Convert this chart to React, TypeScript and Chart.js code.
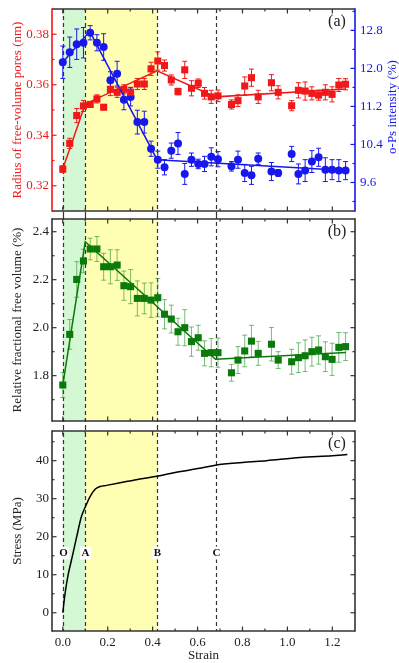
import React, { useEffect, useRef } from 'react';
import { Chart, registerables } from 'chart.js';

Chart.register(...registerables);

const W = 399;
const H = 663;
const FONT = "'Liberation Serif', 'Times New Roman', serif";
const RED = '#f01818';
const BLUE = '#1818ee';
const GREEN = '#0a7a0a';
const GREEN_ERR = 'rgba(50,150,50,0.65)';
const AXIS = '#333333';
const TEXT = '#222222';
const GREEN_BAND = '#d4f8d4';
const YELLOW_BAND = '#ffffb4';

// ---------- data ----------
const strain = [0, 0.031, 0.062, 0.092, 0.122, 0.152, 0.182, 0.212, 0.242, 0.272, 0.302, 0.332, 0.363, 0.393, 0.423, 0.453, 0.483, 0.513, 0.543, 0.573, 0.603, 0.631, 0.661, 0.691, 0.751, 0.78, 0.81, 0.84, 0.87, 0.929, 0.959, 1.019, 1.049, 1.079, 1.109, 1.139, 1.169, 1.199, 1.229, 1.259];

const radius = [0.3266, 0.3368, 0.3478, 0.3516, 0.3522, 0.3544, 0.3511, 0.3582, 0.357, 0.3582, 0.357, 0.3603, 0.3603, 0.3663, 0.3694, 0.3676, 0.3619, 0.3573, 0.3659, 0.3586, 0.3606, 0.3566, 0.3552, 0.3556, 0.3522, 0.3537, 0.3595, 0.3628, 0.3552, 0.3608, 0.357, 0.3517, 0.3578, 0.3575, 0.3566, 0.3559, 0.357, 0.3562, 0.3599, 0.3602];
const radiusErr = [0.0013, 0.002, 0.0028, 0.0022, 0.001, 0.0016, 0.001, 0.0025, 0.002, 0.0018, 0.002, 0.0022, 0.0022, 0.0026, 0.0036, 0.0022, 0.002, 0.0013, 0.0034, 0.003, 0.0017, 0.0023, 0.0026, 0.0023, 0.0018, 0.0023, 0.0036, 0.0034, 0.0026, 0.0032, 0.0026, 0.002, 0.003, 0.0036, 0.0026, 0.002, 0.003, 0.003, 0.0026, 0.0022];

const intensity = [12.13, 12.34, 12.51, 12.54, 12.75, 12.54, 12.45, 11.75, 11.89, 11.34, 11.4, 10.87, 10.87, 10.31, 10.08, 9.92, 10.27, 10.42, 9.78, 10.08, 9.99, 9.99, 10.14, 10.09, 9.94, 10.08, 9.8, 9.75, 10.1, 9.83, 9.8, 10.2, 9.78, 9.85, 10.04, 10.13, 9.87, 9.87, 9.85, 9.85];
const intensityErr = [0.34, 0.32, 0.32, 0.32, 0.15, 0.17, 0.28, 0.18, 0.26, 0.21, 0.19, 0.25, 0.23, 0.16, 0.18, 0.16, 0.16, 0.23, 0.22, 0.14, 0.1, 0.16, 0.19, 0.16, 0.1, 0.18, 0.18, 0.19, 0.12, 0.19, 0.07, 0.16, 0.21, 0.23, 0.23, 0.19, 0.25, 0.21, 0.23, 0.19];

const rffv = [1.761, 1.972, 2.201, 2.278, 2.328, 2.328, 2.254, 2.254, 2.261, 2.175, 2.171, 2.122, 2.122, 2.115, 2.125, 2.056, 2.036, 1.983, 2.0, 1.942, 1.958, 1.893, 1.896, 1.896, 1.812, 1.865, 1.903, 1.944, 1.893, 1.931, 1.865, 1.858, 1.875, 1.883, 1.9, 1.907, 1.879, 1.868, 1.918, 1.921];
const rffvErr = [0.052, 0.062, 0.074, 0.049, 0.045, 0.052, 0.056, 0.071, 0.064, 0.061, 0.071, 0.073, 0.064, 0.072, 0.08, 0.061, 0.058, 0.056, 0.075, 0.061, 0.052, 0.052, 0.059, 0.061, 0.035, 0.056, 0.066, 0.066, 0.05, 0.07, 0.035, 0.052, 0.062, 0.066, 0.06, 0.059, 0.062, 0.067, 0.062, 0.058];

const radiusFitX = [0, 0.1, 0.42, 0.68, 1.26];
const radiusFitY = [0.3266, 0.3524, 0.3655, 0.3552, 0.3583];
const intensityFitX = [0, 0.12, 0.42, 1.26];
const intensityFitY = [12.13, 12.78, 10.08, 9.85];
const rffvFitX = [0, 0.1, 0.68, 1.26];
const rffvFitY = [1.761, 2.358, 1.868, 1.897];

const stressStrain = [0, 0.01, 0.024, 0.044, 0.062, 0.083, 0.1, 0.121, 0.144, 0.166, 0.195, 0.25, 0.343, 0.42, 0.5, 0.61, 0.68, 0.8, 0.907, 1.056, 1.2, 1.267];
const stress = [0, 5, 10, 15.2, 20, 25.3, 27.8, 30.5, 32.5, 33.2, 33.5, 34.1, 35.2, 35.9, 36.9, 38.0, 38.8, 39.5, 40.0, 40.8, 41.3, 41.6];

const stageStrains = [0, 0.1, 0.42, 0.68];
const stageLabels = ['O', 'A', 'B', 'C'];

const xMajor = [0, 0.2, 0.4, 0.6, 0.8, 1.0, 1.2];
const xMinor = [0.1, 0.3, 0.5, 0.7, 0.9, 1.1];
const radiusMajor = [0.32, 0.34, 0.36, 0.38];
const radiusMinor = [0.31, 0.33, 0.35, 0.37, 0.39];
const intensityMajor = [9.6, 10.4, 11.2, 12.0, 12.8];
const intensityMinor = [9.2, 10.0, 10.8, 11.6, 12.4, 13.2];
const rffvMajor = [1.8, 2.0, 2.2, 2.4];
const rffvMinor = [1.7, 1.9, 2.1, 2.3];
const stressMajor = [0, 10, 20, 30, 40];
const stressMinor = [5, 15, 25, 35, 45];

// ---------- helpers ----------
const pts = (xs: number[], ys: number[]) => xs.map((x, i) => ({ x, y: ys[i] }));
const tickFont = { family: FONT, size: 13 };
const titleFont = { family: FONT, size: 13 };

function yAxis(o: any) {
  return {
    type: 'linear',
    position: o.position,
    min: o.min,
    max: o.max,
    afterBuildTicks: (s: any) => {
      s.ticks = o.ticks.map((v: number) => ({ value: v }));
    },
    afterFit: (s: any) => {
      s.width = o.width;
      s.paddingTop = 0;
      s.paddingBottom = 0;
    },
    grid: { display: false, drawTicks: false },
    border: { display: false },
    ticks: {
      color: o.color,
      font: tickFont,
      padding: o.padding,
      autoSkip: false,
      callback: (v: any) => Number(v).toFixed(o.decimals),
    },
    title: o.title
      ? { display: true, text: o.title, color: o.color, font: titleFont, padding: { top: 10, bottom: 0 } }
      : { display: false },
  };
}

function hiddenX() {
  return { type: 'linear', min: -0.048, max: 1.301, display: false };
}

interface Side { scaleId: string; major: number[]; minor: number[]; color: string }
interface ErrSpec { scaleId: string; ys: number[]; errs: number[]; color: string }
interface PanelCfg {
  id: string;
  left: Side;
  right: Side;
  extTop: number;
  extBottom: number;
  errors: ErrSpec[];
  label: string;
  stageY?: number;
  stageScale?: string;
  rightTitle?: { text: string; color: string };
}

function panelPlugin(cfg: PanelCfg) {
  return {
    id: cfg.id,
    beforeDatasetsDraw(chart: any) {
      const { ctx, chartArea: a } = chart;
      const xs = chart.scales.x;
      ctx.save();
      const b0 = xs.getPixelForValue(stageStrains[0]);
      const b1 = xs.getPixelForValue(stageStrains[1]);
      const b2 = xs.getPixelForValue(stageStrains[2]);
      ctx.fillStyle = GREEN_BAND;
      ctx.fillRect(b0, a.top, b1 - b0, a.bottom - a.top);
      ctx.fillStyle = YELLOW_BAND;
      ctx.fillRect(b1, a.top, b2 - b1, a.bottom - a.top);
      ctx.strokeStyle = AXIS;
      ctx.lineWidth = 1.2;
      ctx.setLineDash([4, 3]);
      for (const s of stageStrains) {
        const p = Math.round(xs.getPixelForValue(s)) + 0.5;
        ctx.beginPath();
        ctx.moveTo(p, a.top - cfg.extTop);
        ctx.lineTo(p, a.bottom + cfg.extBottom);
        ctx.stroke();
      }
      ctx.setLineDash([]);
      const cap = 2.5;
      for (const e of cfg.errors) {
        const ys = chart.scales[e.scaleId];
        ctx.strokeStyle = e.color;
        ctx.lineWidth = 1;
        e.ys.forEach((v, i) => {
          const px = xs.getPixelForValue(strain[i]);
          const t = ys.getPixelForValue(v + e.errs[i]);
          const b = ys.getPixelForValue(v - e.errs[i]);
          ctx.beginPath();
          ctx.moveTo(px, t);
          ctx.lineTo(px, b);
          ctx.moveTo(px - cap, t);
          ctx.lineTo(px + cap, t);
          ctx.moveTo(px - cap, b);
          ctx.lineTo(px + cap, b);
          ctx.stroke();
        });
      }
      ctx.restore();
    },
    afterDraw(chart: any) {
      const { ctx, chartArea: a } = chart;
      const xs = chart.scales.x;
      ctx.save();
      const line = (x1: number, y1: number, x2: number, y2: number, c: string, w: number) => {
        ctx.strokeStyle = c;
        ctx.lineWidth = w;
        ctx.beginPath();
        ctx.moveTo(x1, y1);
        ctx.lineTo(x2, y2);
        ctx.stroke();
      };
      // ticks
      for (const [vals, len] of [[xMajor, 4.5], [xMinor, 2.5]] as [number[], number][]) {
        for (const v of vals) {
          const p = xs.getPixelForValue(v);
          line(p, a.bottom, p, a.bottom - len, AXIS, 1.2);
          line(p, a.top, p, a.top + len, AXIS, 1.2);
        }
      }
      const sides: [Side, number, number][] = [[cfg.left, a.left, 1], [cfg.right, a.right, -1]];
      for (const [side, x0, dir] of sides) {
        const ys = chart.scales[side.scaleId];
        for (const [vals, len] of [[side.major, 4.5], [side.minor, 2.5]] as [number[], number][]) {
          for (const v of vals) {
            const p = ys.getPixelForValue(v);
            if (p < a.top + 1 || p > a.bottom - 1) continue;
            line(x0, p, x0 + dir * len, p, side.color, 1.2);
          }
        }
      }
      // frame
      line(a.left, a.top, a.right, a.top, AXIS, 1.6);
      line(a.left, a.bottom, a.right, a.bottom, AXIS, 1.6);
      line(a.left, a.top - 0.8, a.left, a.bottom + 0.8, cfg.left.color, 1.6);
      line(a.right, a.top - 0.8, a.right, a.bottom + 0.8, cfg.right.color, 1.6);
      // panel label
      ctx.fillStyle = TEXT;
      ctx.font = `16px ${FONT}`;
      ctx.textAlign = 'center';
      ctx.textBaseline = 'middle';
      ctx.fillText(cfg.label, a.right - 18, a.top + 13);
      // stage labels
      if (cfg.stageY !== undefined && cfg.stageScale) {
        const py = chart.scales[cfg.stageScale].getPixelForValue(cfg.stageY);
        ctx.font = `bold 11px ${FONT}`;
        stageStrains.forEach((s, i) => {
          const px = Math.round(xs.getPixelForValue(s)) + 0.5;
          const w = ctx.measureText(stageLabels[i]).width + 3;
          ctx.fillStyle = '#ffffff';
          ctx.fillRect(px - w / 2, py - 6.5, w, 13);
          ctx.fillStyle = '#111111';
          ctx.fillText(stageLabels[i], px, py + 0.5);
        });
      }
      // right title
      if (cfg.rightTitle) {
        ctx.translate(a.right + 38, (a.top + a.bottom) / 2 - 3);
        ctx.rotate(-Math.PI / 2);
        ctx.fillStyle = cfg.rightTitle.color;
        ctx.font = `13px ${FONT}`;
        ctx.fillText(cfg.rightTitle.text, 0, 0);
      }
      ctx.restore();
    },
  };
}

const baseOptions = {
  responsive: false,
  animation: false,
  events: [],
  plugins: { legend: { display: false }, tooltip: { enabled: false } },
};

function configA(): any {
  return {
    type: 'scatter',
    data: {
      datasets: [
        { data: pts(radiusFitX, radiusFitY), yAxisID: 'yL', showLine: true, pointRadius: 0, borderColor: RED, borderWidth: 1.5 },
        { data: pts(intensityFitX, intensityFitY), yAxisID: 'yR', showLine: true, pointRadius: 0, borderColor: BLUE, borderWidth: 1.5 },
        { data: pts(strain, radius), yAxisID: 'yL', pointStyle: 'rect', pointRadius: 5, borderWidth: 0, backgroundColor: RED, borderColor: RED },
        { data: pts(strain, intensity), yAxisID: 'yR', pointStyle: 'circle', pointRadius: 4, borderWidth: 0, backgroundColor: BLUE, borderColor: BLUE },
      ],
    },
    options: {
      ...baseOptions,
      layout: { padding: { top: 9, bottom: H - 211, left: 0, right: 0 } },
      scales: {
        x: hiddenX(),
        yL: yAxis({ position: 'left', min: 0.31, max: 0.39, ticks: radiusMajor, width: 52, color: RED, padding: 3, decimals: 2, title: 'Radius of free-volume pores (nm)' }),
        yR: yAxis({ position: 'right', min: 9.0, max: 13.25, ticks: intensityMajor, width: 44, color: BLUE, padding: 5, decimals: 1 }),
      },
    },
    plugins: [
      panelPlugin({
        id: 'panelA',
        left: { scaleId: 'yL', major: radiusMajor, minor: radiusMinor, color: RED },
        right: { scaleId: 'yR', major: intensityMajor, minor: intensityMinor, color: BLUE },
        extTop: 0,
        extBottom: 4,
        errors: [
          { scaleId: 'yL', ys: radius, errs: radiusErr, color: RED },
          { scaleId: 'yR', ys: intensity, errs: intensityErr, color: BLUE },
        ],
        label: '(a)',
        rightTitle: { text: 'o-Ps intensity (%)', color: BLUE },
      }),
    ],
  };
}

function configB(): any {
  return {
    type: 'scatter',
    data: {
      datasets: [
        { data: pts(rffvFitX, rffvFitY), yAxisID: 'y', showLine: true, pointRadius: 0, borderColor: GREEN, borderWidth: 1.5 },
        { data: pts(strain, rffv), yAxisID: 'y', pointStyle: 'rect', pointRadius: 5, borderWidth: 0, backgroundColor: GREEN, borderColor: GREEN },
      ],
    },
    options: {
      ...baseOptions,
      layout: { padding: { top: 219, bottom: H - 421, left: 0, right: 44 } },
      scales: {
        x: hiddenX(),
        y: yAxis({ position: 'left', min: 1.611, max: 2.453, ticks: rffvMajor, width: 52, color: TEXT, padding: 3, decimals: 1, title: 'Relative fractional free volume (%)' }),
      },
    },
    plugins: [
      panelPlugin({
        id: 'panelB',
        left: { scaleId: 'y', major: rffvMajor, minor: rffvMinor, color: AXIS },
        right: { scaleId: 'y', major: rffvMajor, minor: rffvMinor, color: AXIS },
        extTop: 4,
        extBottom: 5,
        errors: [{ scaleId: 'y', ys: rffv, errs: rffvErr, color: GREEN_ERR }],
        label: '(b)',
      }),
    ],
  };
}

function configC(): any {
  return {
    type: 'scatter',
    data: {
      datasets: [
        { data: pts(stressStrain, stress), yAxisID: 'y', showLine: true, pointRadius: 0, borderColor: '#000000', borderWidth: 1.5, cubicInterpolationMode: 'monotone' },
      ],
    },
    options: {
      ...baseOptions,
      layout: { padding: { top: 431, bottom: 0, left: 0, right: 44 } },
      scales: {
        x: {
          type: 'linear',
          min: -0.048,
          max: 1.301,
          afterBuildTicks: (s: any) => {
            s.ticks = xMajor.map((v) => ({ value: v }));
          },
          afterFit: (s: any) => {
            s.height = H - 631;
            s.paddingLeft = 0;
            s.paddingRight = 0;
          },
          grid: { display: false, drawTicks: false },
          border: { display: false },
          ticks: { color: TEXT, font: tickFont, padding: 4, maxRotation: 0, autoSkip: false, callback: (v: any) => Number(v).toFixed(1) },
          title: { display: true, text: 'Strain', color: TEXT, font: titleFont, padding: { top: 0, bottom: 0 } },
        },
        y: yAxis({ position: 'left', min: -4.8, max: 47.8, ticks: stressMajor, width: 52, color: TEXT, padding: 3, decimals: 0, title: 'Stress (MPa)' }),
      },
    },
    plugins: [
      panelPlugin({
        id: 'panelC',
        left: { scaleId: 'y', major: stressMajor, minor: stressMinor, color: AXIS },
        right: { scaleId: 'y', major: stressMajor, minor: stressMinor, color: AXIS },
        extTop: 5,
        extBottom: 0,
        errors: [],
        label: '(c)',
        stageY: 15.7,
        stageScale: 'y',
      }),
    ],
  };
}

function ChartCanvas({ build }: { build: () => any }) {
  const ref = useRef<HTMLCanvasElement>(null);
  useEffect(() => {
    if (!ref.current) return;
    const chart = new Chart(ref.current, build());
    return () => chart.destroy();
  }, [build]);
  return (
    <canvas
      ref={ref}
      width={W}
      height={H}
      style={{ position: 'absolute', left: 0, top: 0, width: W, height: H }}
    />
  );
}

export default function App() {
  return (
    <div style={{ position: 'absolute', left: 0, top: 0, width: W, height: H, background: '#ffffff', overflow: 'hidden' }}>
      <ChartCanvas build={configA} />
      <ChartCanvas build={configB} />
      <ChartCanvas build={configC} />
    </div>
  );
}
